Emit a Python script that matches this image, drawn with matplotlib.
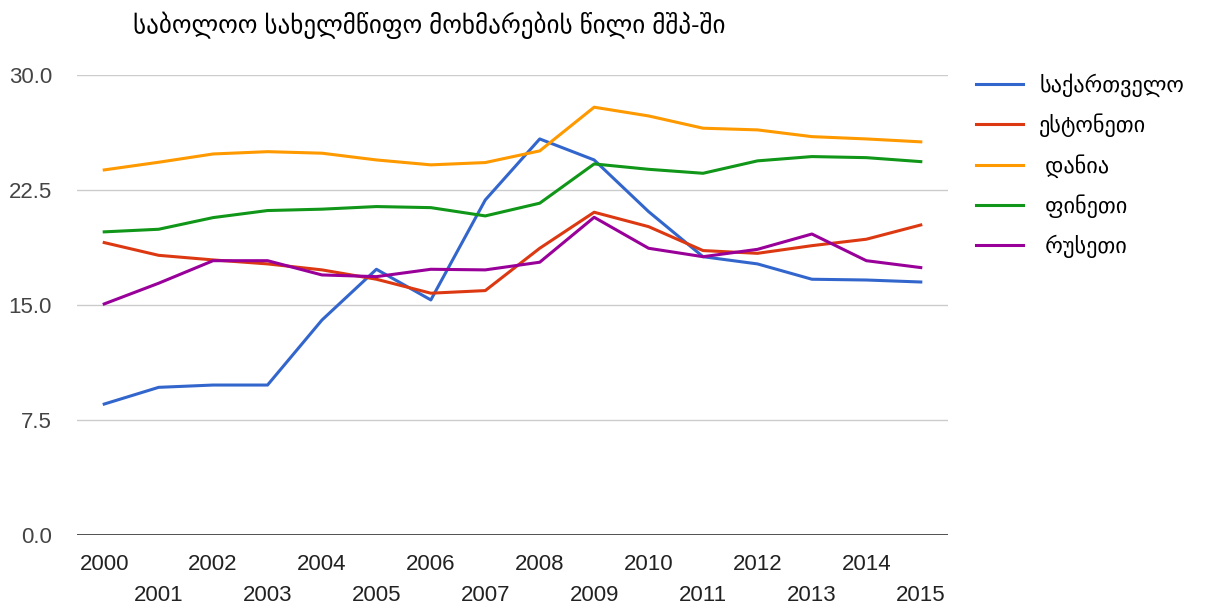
import matplotlib
matplotlib.use("Agg")
import matplotlib.pyplot as plt
from matplotlib.ticker import FixedLocator

plt.rcParams['font.family'] = ['Liberation Sans', 'DejaVu Sans']

years = list(range(2000, 2016))
georgia = [8.54, 9.63, 9.78, 9.78, 14.02, 17.33, 15.33, 21.85, 25.83, 24.46, 21.09, 18.15, 17.68, 16.68, 16.63, 16.5]
estonia = [19.07, 18.24, 17.94, 17.68, 17.29, 16.68, 15.77, 15.94, 18.7, 21.05, 20.11, 18.55, 18.37, 18.87, 19.29, 20.22]
denmark = [23.81, 24.31, 24.85, 25.0, 24.9, 24.46, 24.14, 24.29, 25.05, 27.9, 27.33, 26.53, 26.42, 25.98, 25.83, 25.64]
finland = [19.77, 19.94, 20.7, 21.16, 21.25, 21.42, 21.35, 20.81, 21.64, 24.2, 23.85, 23.59, 24.4, 24.68, 24.61, 24.35]
russia = [15.07, 16.42, 17.89, 17.89, 16.96, 16.85, 17.33, 17.29, 17.79, 20.72, 18.7, 18.15, 18.63, 19.63, 17.89, 17.44]

series_names = ["საქართველო", "ესტონეთი", " დანია", " ფინეთი", " რუსეთი"]
series_values = [georgia, estonia, denmark, finland, russia]
colors = ["#3366cc", "#dc3912", "#ff9900", "#109618", "#990099"]
yticks = [0.0, 7.5, 15.0, 22.5, 30.0]
title = "საბოლოო სახელმწიფო მოხმარების წილი მშპ-ში"

fig = plt.figure(figsize=(12.13, 6.08), dpi=100)
ax = fig.add_axes([77/1213, 1-535/608, (948-77)/1213, (535-75)/608])

x = list(range(len(years)))
for name, vals, c in zip(series_names, series_values, colors):
    ax.plot(x, vals, color=c, lw=2.2, label=name, solid_joinstyle='round')

ax.set_xlim(-0.5, len(years) - 0.5)
ax.set_ylim(0, 30)
ax.set_yticks(yticks)
ax.set_yticklabels([f"{v:.1f}" for v in yticks])
for v in yticks:
    if v == 0:
        ax.axhline(v, color="#333333", lw=1.2, zorder=3)
    else:
        ax.axhline(v, color="#cccccc", lw=1.0, zorder=0)

even = [i for i in x if i % 2 == 0]
odd = [i for i in x if i % 2 == 1]
ax.xaxis.set_major_locator(FixedLocator(even))
ax.set_xticklabels([str(years[i]) for i in even])
ax.xaxis.set_minor_locator(FixedLocator(odd))
ax.set_xticklabels([str(years[i]) for i in odd], minor=True)
ax.tick_params(axis='x', which='major', length=0, pad=14, labelsize=16, labelcolor="#222222")
ax.tick_params(axis='x', which='minor', length=0, pad=36, labelsize=16, labelcolor="#222222")
ax.tick_params(axis='y', length=0, pad=18, labelsize=16, labelcolor="#444444")

for s in ax.spines.values():
    s.set_visible(False)

fig.text(133/1213, 1-25/608, title, fontsize=18, va='center', ha='left', color="#000000")

leg = fig.legend(loc='upper left', bbox_to_anchor=(956/1213, 1-53/608), frameon=False,
                 fontsize=16, handlelength=2.1, handletextpad=0.75, labelspacing=0.76)

fig.savefig("out.png", dpi=100)
